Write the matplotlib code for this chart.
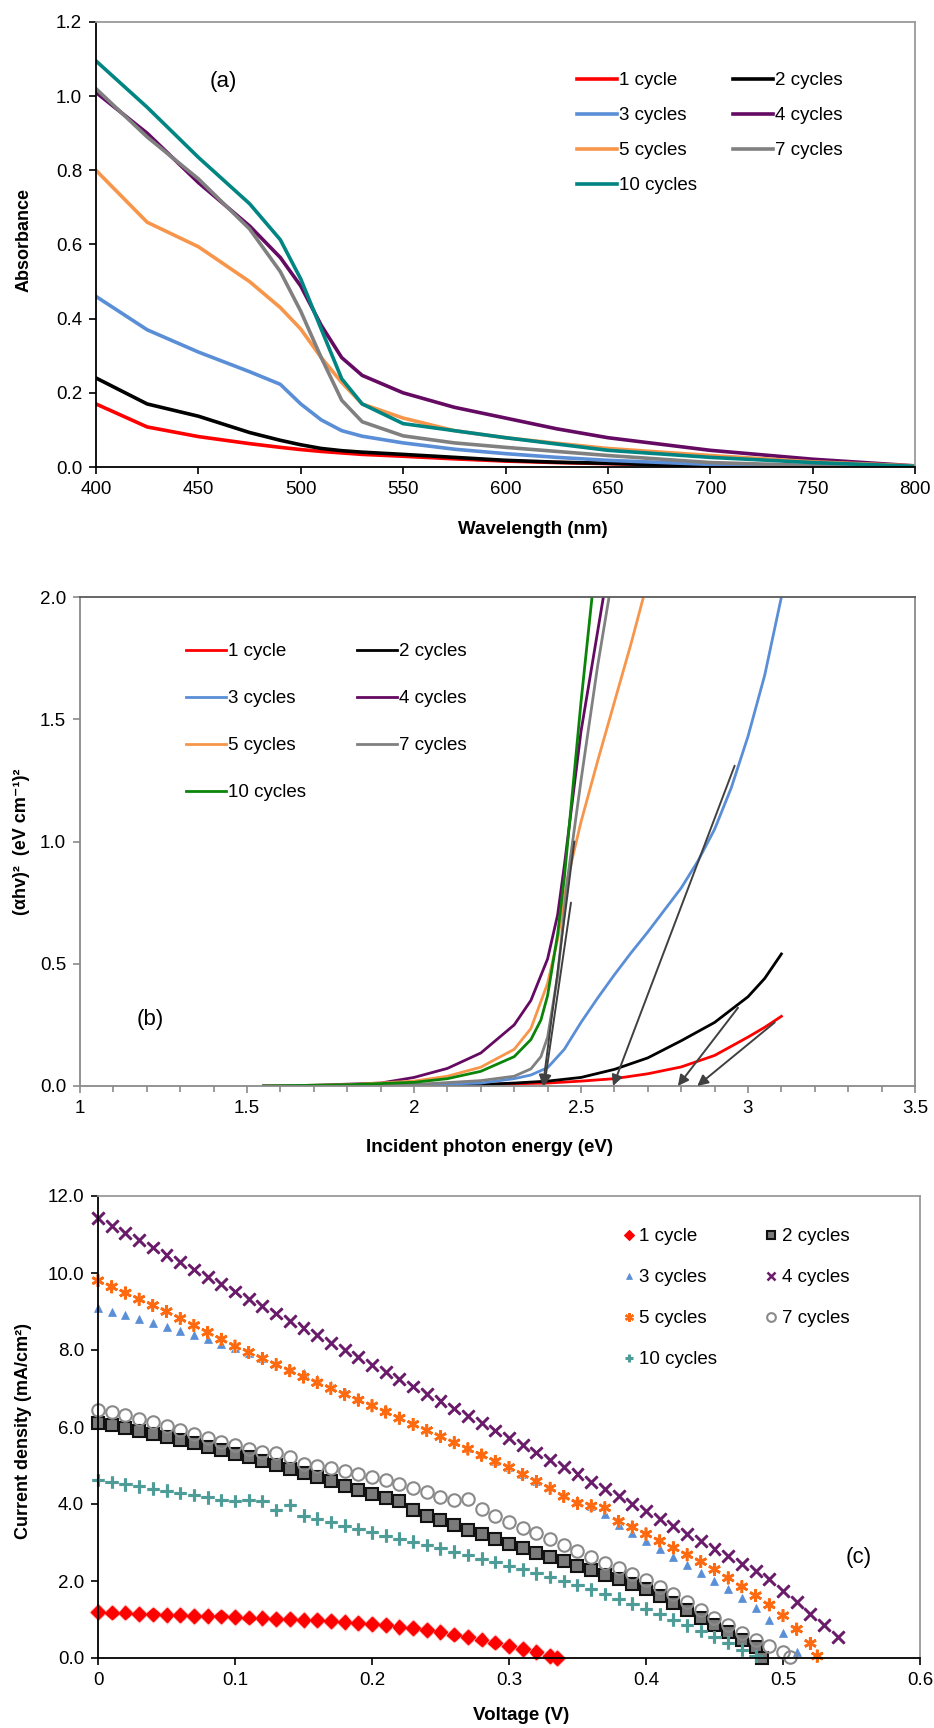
import numpy as np
import matplotlib
matplotlib.use('Agg')
import matplotlib.pyplot as plt
import matplotlib.patheffects as pe

plt.rcParams['font.family'] = ['Liberation Sans', 'DejaVu Sans']

W, H = 934, 1728

# ---------------- data: panel (a) absorbance ----------------
wl = [400, 425, 450, 475, 490, 500, 510, 520, 530, 550, 575, 600, 625, 650, 700, 750, 800]
abs_1 = [0.17, 0.108, 0.082, 0.063, 0.053, 0.047, 0.042, 0.038, 0.034, 0.029, 0.022, 0.016, 0.012, 0.009, 0.004, 0.001, 0.0]
abs_2 = [0.24, 0.17, 0.137, 0.093, 0.072, 0.060, 0.050, 0.044, 0.040, 0.034, 0.026, 0.018, 0.013, 0.010, 0.002, 0.0, 0.0]
abs_3 = [0.46, 0.37, 0.31, 0.257, 0.223, 0.17, 0.127, 0.098, 0.083, 0.065, 0.048, 0.036, 0.026, 0.018, 0.007, 0.002, 0.0]
abs_4 = [1.01, 0.90, 0.767, 0.65, 0.565, 0.488, 0.382, 0.295, 0.247, 0.20, 0.161, 0.132, 0.103, 0.079, 0.045, 0.021, 0.003]
abs_5 = [0.80, 0.66, 0.594, 0.50, 0.43, 0.372, 0.295, 0.228, 0.17, 0.132, 0.098, 0.079, 0.064, 0.05, 0.031, 0.014, 0.003]
abs_7 = [1.02, 0.89, 0.777, 0.642, 0.527, 0.42, 0.295, 0.18, 0.122, 0.084, 0.065, 0.053, 0.042, 0.031, 0.012, 0.004, 0.0]
abs_10 = [1.095, 0.97, 0.835, 0.71, 0.613, 0.507, 0.372, 0.238, 0.17, 0.117, 0.098, 0.079, 0.062, 0.045, 0.026, 0.012, 0.002]

# ---------------- data: panel (b) tauc ----------------
e_1 = [1.55, 1.8, 2.0, 2.2, 2.4, 2.5, 2.6, 2.7, 2.8, 2.9, 3.0, 3.05, 3.1]
t_1 = [0, 0, 0.002, 0.006, 0.012, 0.02, 0.03, 0.05, 0.078, 0.125, 0.2, 0.24, 0.285]
e_2 = [1.55, 1.8, 2.0, 2.2, 2.3, 2.4, 2.5, 2.6, 2.7, 2.8, 2.9, 3.0, 3.05, 3.1]
t_2 = [0, 0, 0.002, 0.006, 0.012, 0.02, 0.035, 0.068, 0.115, 0.185, 0.26, 0.365, 0.44, 0.54]
e_3 = [1.55, 1.8, 2.0, 2.2, 2.3, 2.35, 2.4, 2.45, 2.5, 2.55, 2.6, 2.65, 2.7, 2.75, 2.8,
       2.85, 2.9, 2.95, 3.0, 3.05, 3.1]
t_3 = [0, 0.001, 0.004, 0.012, 0.03, 0.045, 0.075, 0.15, 0.26, 0.36, 0.455, 0.545, 0.63, 0.72,
       0.81, 0.92, 1.05, 1.22, 1.43, 1.68, 2.0]
e_4 = [1.55, 1.7, 1.9, 2.0, 2.1, 2.2, 2.3, 2.35, 2.4, 2.43, 2.45, 2.5, 2.567]
t_4 = [0, 0.003, 0.012, 0.035, 0.072, 0.135, 0.25, 0.35, 0.52, 0.7, 0.9, 1.45, 2.0]
e_5 = [1.55, 1.8, 2.0, 2.1, 2.2, 2.3, 2.35, 2.4, 2.43, 2.46, 2.5, 2.55, 2.6, 2.65, 2.687]
t_5 = [0, 0.005, 0.02, 0.04, 0.077, 0.15, 0.235, 0.42, 0.6, 0.85, 1.08, 1.33, 1.57, 1.81, 2.0]
e_7 = [1.55, 1.8, 2.0, 2.2, 2.3, 2.35, 2.38, 2.4, 2.43, 2.46, 2.5, 2.55, 2.584]
t_7 = [0, 0.002, 0.006, 0.022, 0.04, 0.07, 0.12, 0.2, 0.45, 0.85, 1.25, 1.72, 2.0]
e_10 = [1.55, 1.8, 2.0, 2.1, 2.2, 2.3, 2.35, 2.38, 2.4, 2.43, 2.45, 2.5, 2.533]
t_10 = [0, 0.005, 0.015, 0.03, 0.06, 0.12, 0.19, 0.27, 0.37, 0.62, 0.85, 1.57, 2.0]
# tangent arrows: start (E, y) -> intercept (E, 0)
arr_start = [(2.48, 1.0), (2.47, 0.75), (2.96, 1.31), (2.97, 0.32), (3.08, 0.26)]
arr_end = [(2.386, 0.0), (2.39, 0.0), (2.596, 0.0), (2.79, 0.0), (2.848, 0.0)]

# ---------------- data: panel (c) J-V ----------------
v_1 = [0, .01, .02, .03, .04, .05, .06, .07, .08, .09, .10, .11, .12, .13, .14, .15, .16, .17,
       .18, .19, .20, .21, .22, .23, .24, .25, .26, .27, .28, .29, .30, .31, .32, .33, .335]
j_1 = [1.19, 1.18, 1.18, 1.15, 1.13, 1.12, 1.11, 1.10, 1.09, 1.08, 1.06, 1.05, 1.04, 1.02, 1.01, 0.99,
       0.98, 0.96, 0.94, 0.91, 0.89, 0.85, 0.81, 0.77, 0.72, 0.67, 0.61, 0.55, 0.48, 0.40, 0.32, 0.24,
       0.15, 0.06, 0.0]
v_2 = [0, .01, .02, .03, .04, .05, .06, .07, .08, .09, .10, .11, .12, .13, .14, .15, .16, .17, .18,
       .19, .20, .21, .22, .23, .24, .25, .26, .27, .28, .29, .30, .31, .32, .33, .34, .35, .36, .37,
       .38, .39, .40, .41, .42, .43, .44, .45, .46, .47, .48, .485]
j_2 = [6.10, 6.05, 5.98, 5.90, 5.82, 5.75, 5.67, 5.58, 5.49, 5.40, 5.30, 5.21, 5.11, 5.01, 4.91, 4.81,
       4.70, 4.59, 4.48, 4.37, 4.26, 4.15, 4.08, 3.85, 3.70, 3.58, 3.46, 3.33, 3.21, 3.08, 2.96, 2.85,
       2.74, 2.62, 2.51, 2.40, 2.28, 2.16, 2.04, 1.92, 1.80, 1.62, 1.44, 1.25, 1.05, 0.86, 0.68, 0.48,
       0.28, 0.0]
v_3 = [0, .01, .02, .03, .04, .05, .06, .07, .08, .09, .10, .11, .12, .13, .14, .15, .16, .17, .18,
       .19, .20, .21, .22, .23, .24, .25, .26, .27, .28, .29, .30, .31, .32, .33, .34, .35, .36, .37,
       .38, .39, .40, .41, .42, .43, .44, .45, .46, .47, .48, .49, .50, .51]
j_3 = [9.10, 9.00, 8.90, 8.80, 8.70, 8.60, 8.50, 8.39, 8.28, 8.16, 8.05, 7.92, 7.79, 7.66, 7.53, 7.40,
       7.24, 7.08, 6.92, 6.76, 6.60, 6.44, 6.28, 6.12, 5.96, 5.80, 5.63, 5.46, 5.29, 5.12, 4.95, 4.78,
       4.61, 4.44, 4.27, 4.10, 3.95, 3.75, 3.45, 3.25, 3.05, 2.84, 2.63, 2.42, 2.21, 2.00, 1.78, 1.55,
       1.30, 1.00, 0.65, 0.15]
v_4 = [0, .01, .02, .03, .04, .05, .06, .07, .08, .09, .10, .11, .12, .13, .14, .15, .16, .17, .18,
       .19, .20, .21, .22, .23, .24, .25, .26, .27, .28, .29, .30, .31, .32, .33, .34, .35, .36, .37,
       .38, .39, .40, .41, .42, .43, .44, .45, .46, .47, .48, .49, .50, .51, .52, .53, .54]
j_4 = [11.42, 11.23, 11.04, 10.85, 10.66, 10.47, 10.28, 10.09, 9.90, 9.71, 9.52, 9.33, 9.14, 8.95,
       8.76, 8.57, 8.38, 8.19, 8.00, 7.81, 7.62, 7.43, 7.24, 7.05, 6.86, 6.67, 6.48, 6.29, 6.10, 5.91,
       5.72, 5.53, 5.34, 5.15, 4.96, 4.77, 4.58, 4.39, 4.20, 4.00, 3.82, 3.62, 3.43, 3.23, 3.04, 2.84,
       2.65, 2.45, 2.25, 2.05, 1.75, 1.45, 1.15, 0.85, 0.55]
v_5 = [0, .01, .02, .03, .04, .05, .06, .07, .08, .09, .10, .11, .12, .13, .14, .15, .16, .17, .18,
       .19, .20, .21, .22, .23, .24, .25, .26, .27, .28, .29, .30, .31, .32, .33, .34, .35, .36, .37,
       .38, .39, .40, .41, .42, .43, .44, .45, .46, .47, .48, .49, .50, .51, .52, .525]
j_5 = [9.80, 9.64, 9.48, 9.32, 9.16, 9.00, 8.82, 8.64, 8.46, 8.28, 8.10, 7.94, 7.78, 7.62, 7.46, 7.30,
       7.15, 7.00, 6.85, 6.70, 6.55, 6.39, 6.23, 6.07, 5.91, 5.75, 5.59, 5.43, 5.27, 5.11, 4.95, 4.77,
       4.59, 4.41, 4.20, 4.02, 3.95, 3.90, 3.55, 3.40, 3.22, 3.04, 2.86, 2.68, 2.50, 2.30, 2.08, 1.85,
       1.62, 1.38, 1.10, 0.75, 0.38, 0.05]
v_7 = [0, .01, .02, .03, .04, .05, .06, .07, .08, .09, .10, .11, .12, .13, .14, .15, .16, .17, .18,
       .19, .20, .21, .22, .23, .24, .25, .26, .27, .28, .29, .30, .31, .32, .33, .34, .35, .36, .37,
       .38, .39, .40, .41, .42, .43, .44, .45, .46, .47, .48, .49, .50, .505]
j_7 = [6.45, 6.38, 6.30, 6.22, 6.12, 6.02, 5.92, 5.82, 5.72, 5.62, 5.52, 5.42, 5.36, 5.32, 5.22, 5.05,
       4.98, 4.93, 4.86, 4.78, 4.70, 4.62, 4.52, 4.42, 4.30, 4.18, 4.10, 4.12, 3.88, 3.70, 3.52, 3.38,
       3.24, 3.10, 2.94, 2.78, 2.63, 2.48, 2.33, 2.18, 2.02, 1.84, 1.65, 1.45, 1.25, 1.05, 0.85, 0.66,
       0.48, 0.30, 0.15, 0.02]
v_10 = [0, .01, .02, .03, .04, .05, .06, .07, .08, .09, .10, .11, .12, .13, .14, .15, .16, .17, .18,
        .19, .20, .21, .22, .23, .24, .25, .26, .27, .28, .29, .30, .31, .32, .33, .34, .35, .36, .37,
        .38, .39, .40, .41, .42, .43, .44, .45, .46, .47, .48]
j_10 = [4.62, 4.57, 4.51, 4.46, 4.40, 4.35, 4.29, 4.23, 4.17, 4.10, 4.08, 4.10, 4.08, 3.85, 3.98, 3.70,
        3.62, 3.53, 3.44, 3.35, 3.26, 3.18, 3.10, 3.02, 2.93, 2.85, 2.76, 2.67, 2.58, 2.49, 2.40, 2.30,
        2.20, 2.10, 2.00, 1.90, 1.78, 1.66, 1.54, 1.41, 1.28, 1.14, 1.00, 0.85, 0.70, 0.55, 0.40, 0.22,
        0.05]

labels = ['1 cycle', '2 cycles', '3 cycles', '4 cycles', '5 cycles', '7 cycles', '10 cycles']
# legend order: column-major so rows read 1|2, 3|4, 5|7, 10
leg_order = [0, 2, 4, 6, 1, 3, 5]

c_red, c_blk, c_blu, c_pur = '#FF0000', '#000000', '#5A8ED6', '#650A62'
c_org, c_gry, c_teal, c_grn = '#F7964A', '#808080', '#008582', '#0A850A'

TICK_FS = 13.5
LEG_FS = 13.5


def px_axes(l, t, r, b):
    return fig.add_axes([l / W, 1 - b / H, (r - l) / W, (b - t) / H])


def style_axes(ax, left_col, bottom_col, top_col, right_col):
    ax.spines['left'].set_color(left_col)
    ax.spines['bottom'].set_color(bottom_col)
    ax.spines['top'].set_color(top_col)
    ax.spines['right'].set_color(right_col)
    for s in ax.spines.values():
        s.set_linewidth(1.3)
    ax.tick_params(direction='out', length=5, width=1.2, labelsize=TICK_FS, pad=5)


fig = plt.figure(figsize=(W / 100, H / 100), dpi=100)

# ================= panel (a) =================
axa = px_axes(96, 22, 915, 467)
series_a = [abs_1, abs_2, abs_3, abs_4, abs_5, abs_7, abs_10]
cols_a = [c_red, c_blk, c_blu, c_pur, c_org, c_gry, c_teal]
hs = []
for y, c, lab in zip(series_a, cols_a, labels):
    h, = axa.plot(wl, y, color=c, lw=2.6, label=lab)
    hs.append(h)
axa.set_xlim(400, 800)
axa.set_ylim(0, 1.2)
axa.set_xticks(np.arange(400, 801, 50))
axa.set_yticks(np.arange(0, 1.21, 0.2))
axa.set_yticklabels(['%.1f' % v for v in np.arange(0, 1.21, 0.2)])
style_axes(axa, 'black', 'black', '#9a9a9a', '#9a9a9a')
axa.text(462, 1.04, '(a)', fontsize=16, ha='center', va='center')
axa.legend([hs[i] for i in leg_order], [labels[i] for i in leg_order], ncol=2,
           loc='upper left', bbox_to_anchor=(577 / W, 1 - 72 / H), bbox_transform=fig.transFigure,
           frameon=False, fontsize=LEG_FS, handlelength=2.15, handletextpad=0.1,
           columnspacing=1.9, labelspacing=0.96, borderpad=0, borderaxespad=0)
fig.text(24 / W, 1 - 240 / H, 'Absorbance', rotation=90, fontsize=13, fontweight='bold',
         ha='center', va='center')
fig.text(533 / W, 1 - 529 / H, 'Wavelength (nm)', fontsize=13.5, fontweight='bold',
         ha='center', va='center')

# ================= panel (b) =================
axb = px_axes(80, 597, 915, 1086)
series_b = [(e_1, t_1), (e_2, t_2), (e_3, t_3), (e_4, t_4), (e_5, t_5), (e_7, t_7), (e_10, t_10)]
cols_b = [c_red, c_blk, c_blu, c_pur, c_org, c_gry, c_grn]
hs = []
for (x, y), c, lab in zip(series_b, cols_b, labels):
    h, = axb.plot(x, y, color=c, lw=2.0, label=lab)
    hs.append(h)
for s, e in zip(arr_start, arr_end):
    axb.annotate('', xy=e, xytext=s,
                 arrowprops=dict(arrowstyle='-|>', color='#404040', lw=1.4,
                                 mutation_scale=16, shrinkA=0, shrinkB=0))
axb.set_xlim(1, 3.5)
axb.set_ylim(0, 2.0)
axb.set_xticks([1, 1.5, 2, 2.5, 3, 3.5])
axb.set_xticklabels(['1', '1.5', '2', '2.5', '3', '3.5'])
axb.set_xticks(np.arange(1, 3.51, 0.1), minor=True)
axb.set_yticks([0, 0.5, 1.0, 1.5, 2.0])
axb.set_yticklabels(['0.0', '0.5', '1.0', '1.5', '2.0'])
style_axes(axb, '#8a8a8a', '#8a8a8a', '#5a5a5a', '#8a8a8a')
axb.tick_params(axis='both', colors='#8a8a8a', labelcolor='black')
axb.tick_params(axis='x', which='minor', direction='out', length=4, width=1.2, colors='#8a8a8a')
axb.text(1.21, 0.27, '(b)', fontsize=16, ha='center', va='center')
axb.legend([hs[i] for i in leg_order], [labels[i] for i in leg_order], ncol=2,
           loc='upper left', bbox_to_anchor=(186 / W, 1 - 643 / H), bbox_transform=fig.transFigure,
           frameon=False, fontsize=LEG_FS, handlelength=2.15, handletextpad=0.1,
           columnspacing=2.7, labelspacing=1.6, borderpad=0, borderaxespad=0)
fig.text(22 / W, 1 - 842 / H, '(αhv)²  (eV cm⁻¹)²', rotation=90, fontsize=13,
         fontweight='bold', ha='center', va='center')
fig.text(490 / W, 1 - 1148 / H, 'Incident photon energy (eV)', fontsize=13.5,
         fontweight='bold', ha='center', va='center')

# ================= panel (c) =================
axc = px_axes(98, 1196, 920, 1658)
series_c = [(v_1, j_1), (v_2, j_2), (v_3, j_3), (v_4, j_4), (v_5, j_5), (v_7, j_7), (v_10, j_10)]
mstyle = [
    dict(marker='D', ms=7, mfc=c_red, mec=c_red, mew=0.8),
    dict(marker='s', ms=9, mfc='#7a7a7a', mec='#111111', mew=1.5),
    dict(marker='^', ms=5.5, mfc=c_blu, mec=c_blu, mew=0.5),
    dict(marker='x', ms=8.5, mfc='none', mec='#6A1B6A', mew=1.8),
    dict(marker=(6, 2, 0), ms=9, mfc='none', mec='#FF6A10', mew=1.6),
    dict(marker='o', ms=9, mfc='none', mec='#8a8a8a', mew=1.5),
    dict(marker='+', ms=9, mfc='none', mec='#4E9C98', mew=2.2),
]
# soft halo drawn under the markers (the original has a blurred shadow)
glow = ['#ffb0b0', None, None, '#d2b8d2', '#f8cfae', None, '#bcdcd9']
hs = []
for (x, y), st, lab, g in zip(series_c, mstyle, labels, glow):
    h, = axc.plot(x, y, ls='none', label=lab, clip_on=False, **st)
    if g is not None:
        h.set_path_effects([pe.withStroke(linewidth=2.2, foreground=g), pe.Normal()])
    hs.append(h)
axc.set_xlim(0, 0.6)
axc.set_ylim(0, 12)
axc.set_xticks(np.arange(0, 0.61, 0.1))
axc.set_xticklabels(['0', '0.1', '0.2', '0.3', '0.4', '0.5', '0.6'])
axc.set_yticks(np.arange(0, 12.1, 2))
axc.set_yticklabels(['%.1f' % v for v in np.arange(0, 12.1, 2)])
style_axes(axc, 'black', 'black', '#9a9a9a', '#9a9a9a')
axc.text(0.555, 2.62, '(c)', fontsize=16, ha='center', va='center')
leg = axc.legend([hs[i] for i in leg_order], [labels[i] for i in leg_order], ncol=2,
                 loc='upper left', bbox_to_anchor=(621 / W, 1 - 1228 / H),
                 bbox_transform=fig.transFigure, frameon=False, fontsize=LEG_FS,
                 handlelength=0.8, handletextpad=0.15, numpoints=1, markerscale=0.7,
                 columnspacing=2.5, labelspacing=1.28, borderpad=0, borderaxespad=0)
for lh in leg.legend_handles:
    lh.set_path_effects([])
fig.text(24 / W, 1 - 1431 / H, 'Current density (mA/cm²)', rotation=90, fontsize=13,
         fontweight='bold', ha='center', va='center')
fig.text(521 / W, 1 - 1716 / H, 'Voltage (V)', fontsize=13.5, fontweight='bold',
         ha='center', va='center')

fig.savefig('out.png', dpi=100)
